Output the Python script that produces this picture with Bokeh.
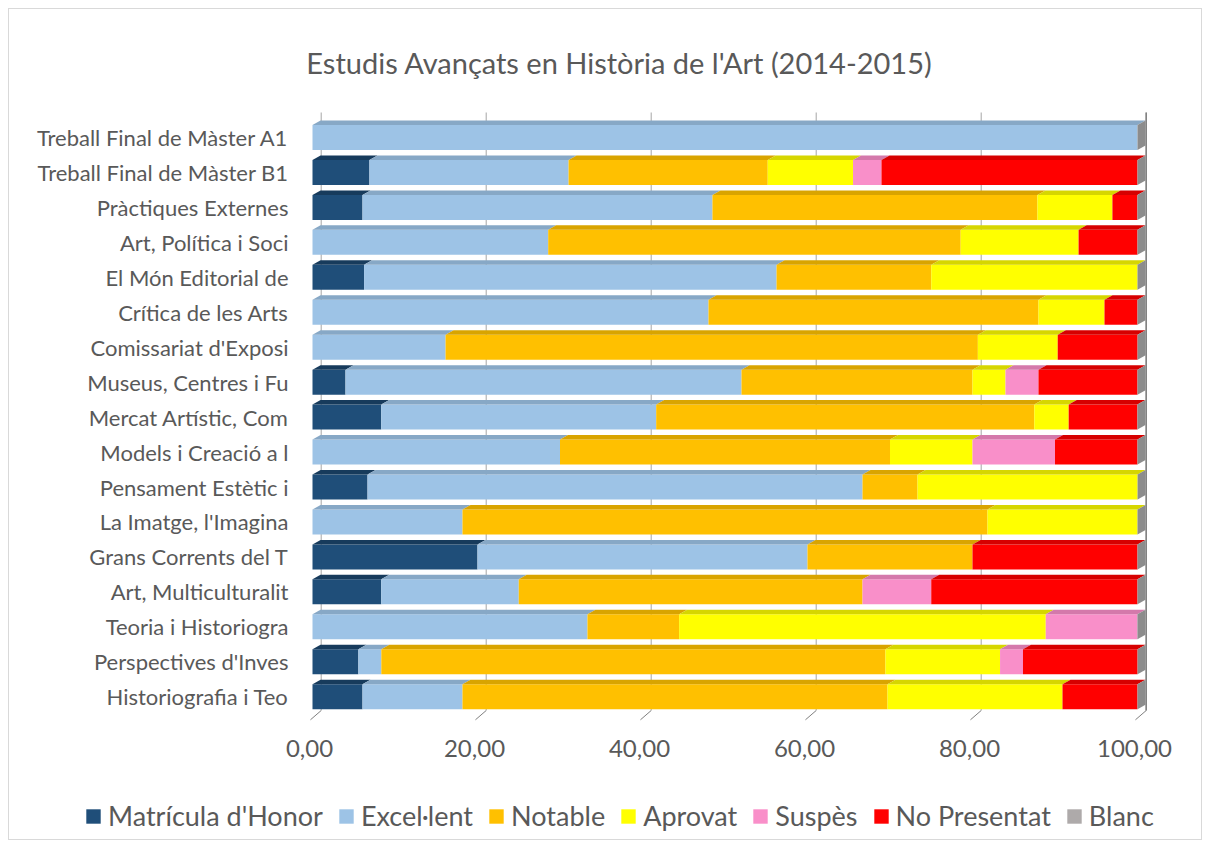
from bokeh.plotting import figure
from bokeh.models import (ColumnDataSource, Legend, LegendItem, Label, Range1d)
from bokeh.embed import file_html
from bokeh.resources import INLINE

# ---------------- data ----------------
categories = [
    "Treball Final de Màster A1",
    "Treball Final de Màster B1",
    "Pràctiques Externes",
    "Art, Política i Soci",
    "El Món Editorial de",
    "Crítica de les Arts",
    "Comissariat d'Exposi",
    "Museus, Centres i Fu",
    "Mercat Artístic, Com",
    "Models i Creació a l",
    "Pensament Estètic i",
    "La Imatge, l'Imagina",
    "Grans Corrents del T",
    "Art, Multiculturalit",
    "Teoria i Historiogra",
    "Perspectives d'Inves",
    "Historiografia i Teo",
]
series_names = ["Matrícula d'Honor", "Excel·lent", "Notable", "Aprovat",
                "Suspès", "No Presentat", "Blanc"]

matricula = [0, 6.90, 6.06, 0, 6.25, 0, 0, 4.00, 8.33, 0, 6.67, 0, 20.00, 8.33, 0, 5.56, 6.06]
excellent = [100, 24.14, 42.42, 28.57, 50.00, 48.00, 16.13, 48.00, 33.33, 30.00, 60.00, 18.18, 40.00, 16.67, 33.33, 2.78, 12.12]
notable   = [0, 24.14, 39.39, 50.00, 18.75, 40.00, 64.52, 28.00, 45.83, 40.00, 6.67, 63.64, 20.00, 41.67, 11.11, 61.11, 51.52]
aprovat   = [0, 10.34, 9.09, 14.29, 25.00, 8.00, 9.68, 4.00, 4.17, 10.00, 26.67, 18.18, 0, 0, 44.44, 13.89, 21.21]
suspes    = [0, 3.45, 0, 0, 0, 0, 0, 4.00, 0, 10.00, 0, 0, 0, 8.33, 11.11, 2.78, 0]
no_pres   = [0, 31.03, 3.03, 7.14, 0, 4.00, 9.68, 12.00, 8.33, 10.00, 0, 0, 20.00, 25.00, 0, 13.89, 9.09]
blanc     = [0] * 17

x_ticks = [0, 20, 40, 60, 80, 100]
x_tick_labels = ["0,00", "20,00", "40,00", "60,00", "80,00", "100,00"]

colors = ["#1F4E79", "#9DC3E6", "#FFC000", "#FFFF00", "#F98FC9", "#FF0000", "#AEAAAA"]
top_colors = ["#173B5C", "#87A8C6", "#D9A400", "#D6D600", "#D479AB", "#D60000", "#8F8C8C"]
side_color = "#8C8C8C"

FONT = "Lato"
TXT = "#595959"

# ---------------- layout (pixel) constants ----------------
W, H = 1194, 832          # canvas size
ORG_X, ORG_Y = 9, 9       # canvas origin on page (margin + border)
X0_PAGE = 312             # page x of value 0 (front face)
PX_X = 8.25               # px per x unit
ROW0_PAGE = 137           # page y of first row centre
PX_Y = 34.95              # px per row

n = len(categories)
ypos = [n - 1 - i for i in range(n)]


def page_y(py):
    return (n - 1) - (py - ROW0_PAGE) / PX_Y


x_start = -(X0_PAGE - ORG_X) / PX_X
x_end = (W + ORG_X - X0_PAGE) / PX_X
y_top = page_y(ORG_Y)
y_bottom = page_y(ORG_Y + H)

bar_h = 25 / PX_Y
dx = 8.0 / PX_X
dy = 4.5 / PX_Y
wall_dx = 8.7 / PX_X
Y_WALL_TOP = page_y(112)
y_wall_bottom = page_y(710)
y_front_bottom = page_y(719.3)

p = figure(width=W, height=H, output_backend="svg", toolbar_location=None,
           x_range=Range1d(x_start, x_end), y_range=Range1d(y_bottom, y_top),
           min_border=0, outline_line_color=None)
p.styles = {"border": "1px solid #D9D9D9", "margin": "8px"}
p.axis.visible = False
p.xgrid.grid_line_color = None
p.ygrid.grid_line_color = None

# back-wall gridlines and floor ticks
p.segment(x0=[t + wall_dx for t in x_ticks], x1=[t + wall_dx for t in x_ticks],
          y0=[y_wall_bottom] * len(x_ticks), y1=[Y_WALL_TOP] * len(x_ticks),
          line_color="#A6A6A6", line_width=1)
p.segment(x0=[t + wall_dx for t in x_ticks], x1=[t - 0.25 for t in x_ticks],
          y0=[y_wall_bottom] * len(x_ticks), y1=[y_front_bottom] * len(x_ticks),
          line_color="#7F7F7F", line_width=1)
p.segment(x0=[100 + wall_dx], x1=[100 + wall_dx], y0=[y_wall_bottom], y1=[Y_WALL_TOP],
          line_color="#7F7F7F", line_width=1.5)

# stacked front faces
data = {"y": ypos}
vals = [matricula, excellent, notable, aprovat, suspes, no_pres, blanc]
for name, v in zip(series_names, vals):
    data[name] = v
src = ColumnDataSource(data)
renderers = p.hbar_stack(series_names, y="y", height=bar_h, color=colors,
                         line_color=None, source=src)

# top faces (3D look)
for s, v in enumerate(vals):
    xs, ys = [], []
    for i in range(n):
        if v[i] <= 0:
            continue
        left = sum(vals[k][i] for k in range(s))
        right = left + v[i]
        yt = ypos[i] + bar_h / 2
        xs.append([left, right, right + dx, left + dx])
        ys.append([yt, yt, yt + dy, yt + dy])
    if xs:
        p.patches(xs, ys, fill_color=top_colors[s], line_color=None)

# right side faces
sxs, sys_ = [], []
for i in range(n):
    total = sum(vals[k][i] for k in range(len(vals)))
    yb = ypos[i] - bar_h / 2
    yt = ypos[i] + bar_h / 2
    sxs.append([total, total + dx, total + dx, total])
    sys_.append([yb, yb + dy, yt + dy, yt])
p.patches(sxs, sys_, fill_color=side_color, line_color=None)

# category labels (y axis)
p.text(x=[0] * n, y=ypos, text=categories, x_offset=-24,
       text_align="right", text_baseline="middle", text_font_size="22px",
       text_color=TXT, text_font={"value": FONT})

# x tick labels
p.text(x=x_ticks, y=[page_y(748)] * len(x_ticks), text=x_tick_labels, x_offset=-3,
       text_align="center", text_baseline="middle", text_font_size="24px",
       text_color=TXT, text_font={"value": FONT})

# title
p.add_layout(Label(x=619 - ORG_X, y=ORG_Y + H - 62, x_units="screen", y_units="screen",
                   text="Estudis Avançats en Història de l'Art (2014-2015)",
                   text_align="center", text_baseline="middle",
                   text_font=FONT, text_font_size="29px", text_color=TXT))

# legend
items = [LegendItem(label=nm, renderers=[r]) for nm, r in zip(series_names, renderers)]
legend = Legend(items=items, orientation="horizontal", location=(75, 9),
                glyph_width=18, glyph_height=18, label_standoff=6, spacing=14,
                padding=0, margin=0, border_line_color=None, background_fill_alpha=0,
                label_text_font=FONT, label_text_font_size="27px", label_text_color=TXT)
p.add_layout(legend, "center")

open("out.html", "w").write(file_html(p, INLINE))
